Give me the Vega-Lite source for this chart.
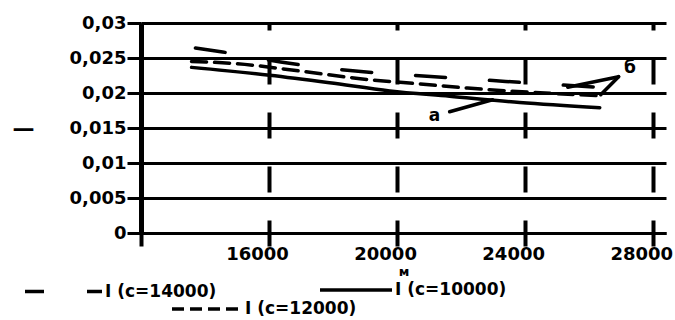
{
  "$schema": "https://vega.github.io/schema/vega-lite/v6.json",
  "width": 525,
  "height": 210,
  "autosize": {"type": "none"},
  "padding": {"left": 141, "top": 23, "right": 9, "bottom": 87},
  "background": "white",
  "config": {
    "view": {"stroke": null},
    "font": "DejaVu Sans",
    "axis": {
      "labelFont": "DejaVu Sans", "labelFontWeight": "bold", "labelColor": "black",
      "titleFont": "DejaVu Sans", "titleFontWeight": "bold", "titleColor": "black",
      "domainColor": "black", "tickColor": "black", "gridColor": "black", "gridOpacity": 1
    },
    "legend": {
      "labelFont": "DejaVu Sans", "labelFontWeight": "bold", "labelFontSize": 17, "labelColor": "black",
      "symbolStrokeColor": "black", "symbolStrokeWidth": 3.5, "symbolType": "stroke",
      "labelOffset": 1, "padding": 0
    }
  },
  "datasets": {
    "lines": [
      {"s": "I (c=14000)", "x": 13700, "y": 0.02643},
      {"s": "I (c=14000)", "x": 14550, "y": 0.02586},
      {"s": "I (c=14000)", "x": 16360, "y": 0.02443},
      {"s": "I (c=14000)", "x": 18700, "y": 0.02314},
      {"s": "I (c=14000)", "x": 21050, "y": 0.02237},
      {"s": "I (c=14000)", "x": 23390, "y": 0.02166},
      {"s": "I (c=14000)", "x": 26480, "y": 0.02076},
      {"s": "I (c=10000)", "x": 13580, "y": 0.02366},
      {"s": "I (c=10000)", "x": 16020, "y": 0.02254},
      {"s": "I (c=10000)", "x": 17890, "y": 0.02147},
      {"s": "I (c=10000)", "x": 19770, "y": 0.02030},
      {"s": "I (c=10000)", "x": 21640, "y": 0.01954},
      {"s": "I (c=10000)", "x": 23830, "y": 0.01864},
      {"s": "I (c=10000)", "x": 26330, "y": 0.01790},
      {"s": "I (c=12000)", "x": 13580, "y": 0.02451},
      {"s": "I (c=12000)", "x": 14980, "y": 0.02419},
      {"s": "I (c=12000)", "x": 17050, "y": 0.02309},
      {"s": "I (c=12000)", "x": 19140, "y": 0.02190},
      {"s": "I (c=12000)", "x": 20640, "y": 0.02133},
      {"s": "I (c=12000)", "x": 22200, "y": 0.02071},
      {"s": "I (c=12000)", "x": 24140, "y": 0.02011},
      {"s": "I (c=12000)", "x": 26330, "y": 0.01961}
    ],
    "leaders": [
      {"x": 21640, "y": 0.01733, "x2": 22980, "y2": 0.01904},
      {"x": 26920, "y": 0.02233, "x2": 25330, "y2": 0.02083},
      {"x": 26920, "y": 0.02233, "x2": 26360, "y2": 0.01976}
    ],
    "notes": [
      {"t": "а", "x": 21170, "y": 0.01676},
      {"t": "б", "x": 27270, "y": 0.0236}
    ]
  },
  "encoding": {
    "x": {
      "field": "x", "type": "quantitative",
      "scale": {"domain": [12000, 28400], "nice": false, "zero": false},
      "axis": {
        "values": [12000, 16000, 20000, 24000, 28000],
        "labelExpr": "datum.value == 12000 ? '' : format(datum.value, 'd')",
        "labelFontSize": 18, "labelPadding": -1, "labelOffset": -12, "labelBaseline": "top",
        "tickSize": 13, "tickWidth": 4, "domainWidth": 3,
        "grid": true, "gridWidth": 4, "gridDash": [26, 28], "gridDashOffset": 19,
        "title": "м", "titleFontSize": 13, "titleY": 38, "titleBaseline": "middle"
      }
    },
    "y": {
      "field": "y", "type": "quantitative",
      "scale": {"domain": [0, 0.03], "nice": false},
      "axis": {
        "values": [0, 0.005, 0.01, 0.015, 0.02, 0.025, 0.03],
        "labelExpr": "replace(format(datum.value, '~g'), '.', ',')",
        "labelFontSize": 18, "labelPadding": 1,
        "tickSize": 14, "tickWidth": 3, "domainWidth": 5,
        "grid": true, "gridWidth": 3,
        "title": "—", "titleAngle": 0, "titleX": -118, "titleY": 105,
        "titleAlign": "center", "titleBaseline": "middle", "titleFontSize": 22
      }
    }
  },
  "layer": [
    {
      "data": {"name": "lines"},
      "transform": [{"filter": "datum.s == 'I (c=14000)'"}],
      "mark": {"type": "line", "color": "black", "strokeWidth": 3.5, "strokeCap": "round", "interpolate": "monotone", "strokeDash": [30, 44]},
      "encoding": {
        "opacity": {
          "field": "s", "type": "ordinal",
          "scale": {"domain": ["I (c=14000)"], "range": [1]},
          "legend": {"title": null, "orient": "none", "legendX": -118, "legendY": 228, "symbolSize": 5929, "symbolDash": [19, 43], "symbolType": "stroke"}
        }
      }
    },
    {
      "data": {"name": "lines"},
      "transform": [{"filter": "datum.s == 'I (c=10000)'"}],
      "mark": {"type": "line", "color": "black", "strokeWidth": 3.5, "strokeCap": "round", "interpolate": "monotone"},
      "encoding": {
        "opacity": {
          "field": "s", "type": "ordinal",
          "scale": {"domain": ["I (c=10000)"], "range": [1]},
          "legend": {"title": null, "orient": "none", "legendX": 177, "legendY": 229, "symbolSize": 5184, "symbolType": "stroke"}
        }
      }
    },
    {
      "data": {"name": "lines"},
      "transform": [{"filter": "datum.s == 'I (c=12000)'"}],
      "mark": {"type": "line", "color": "black", "strokeWidth": 3.5, "strokeCap": "round", "interpolate": "monotone", "strokeDash": [15, 8]},
      "encoding": {
        "opacity": {
          "field": "s", "type": "ordinal",
          "scale": {"domain": ["I (c=12000)"], "range": [1]},
          "legend": {"title": null, "orient": "none", "legendX": 29, "legendY": 249, "symbolSize": 4900, "symbolDash": [12, 6], "symbolType": "stroke"}
        }
      }
    },
    {
      "data": {"name": "leaders"},
      "mark": {"type": "rule", "color": "black", "strokeWidth": 3.5, "strokeCap": "round"},
      "encoding": {
        "x2": {"field": "x2"},
        "y2": {"field": "y2"}
      }
    },
    {
      "data": {"name": "notes"},
      "mark": {"type": "text", "font": "DejaVu Sans", "fontWeight": "bold", "fontSize": 17, "color": "black", "align": "center", "baseline": "middle"},
      "encoding": {
        "text": {"field": "t"}
      }
    }
  ],
  "resolve": {"scale": {"opacity": "independent"}, "legend": {"opacity": "independent"}}
}
